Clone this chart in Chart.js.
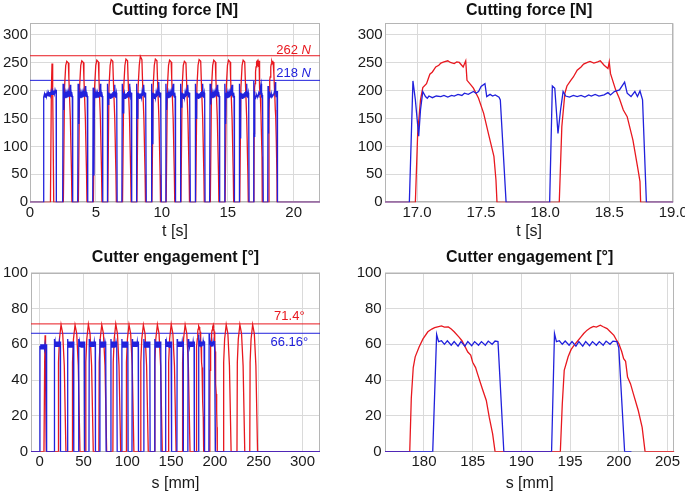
<!DOCTYPE html>
<html>
<head>
<meta charset="utf-8">
<script src="https://cdn.jsdelivr.net/npm/chart.js@4.4.1/dist/chart.umd.min.js"></script>
<style>
  html, body { margin: 0; padding: 0; background: #fff; }
  body { width: 685px; height: 494px; position: relative; overflow: hidden; }
  canvas { position: absolute; }
</style>
</head>
<body>
<canvas id="forceAll" width="340" height="242" style="left:0;top:0"></canvas>
<canvas id="forceZoom" width="340" height="242" style="left:345px;top:0"></canvas>
<canvas id="engAll" width="340" height="250" style="left:0;top:244px"></canvas>
<canvas id="engZoom" width="340" height="250" style="left:345px;top:244px"></canvas>
<script>
// cutting force, passes 1-14  [t s, N]   (passes 15-16 are in the zoom arrays)
const forceRedPulses = [
  [[1.55,0],[1.62,200],[1.67,248],[1.72,205],[1.80,0]],
  [[2.53,0],[2.62,205],[2.71,245],[2.79,252],[2.91,249],[2.95,222],[3.06,150],[3.15,50],[3.18,0]],
  [[3.67,0],[3.76,205],[3.85,245],[3.93,253],[4.05,250],[4.09,222],[4.20,150],[4.29,50],[4.32,0]],
  [[4.81,0],[4.90,205],[4.99,245],[5.07,254],[5.19,251],[5.23,222],[5.34,150],[5.43,50],[5.46,0]],
  [[5.90,0],[5.99,205],[6.08,245],[6.16,255],[6.28,252],[6.32,222],[6.43,150],[6.52,50],[6.55,0]],
  [[7.02,0],[7.11,205],[7.20,245],[7.28,256],[7.40,253],[7.44,222],[7.55,150],[7.64,50],[7.67,0]],
  [[8.11,0],[8.20,205],[8.29,245],[8.37,261],[8.49,255],[8.53,222],[8.64,150],[8.73,50],[8.76,0]],
  [[9.25,0],[9.34,205],[9.43,245],[9.51,256],[9.63,253],[9.67,222],[9.78,150],[9.87,50],[9.90,0]],
  [[10.33,0],[10.42,205],[10.51,245],[10.59,254],[10.71,251],[10.75,222],[10.86,150],[10.95,50],[10.98,0]],
  [[11.45,0],[11.54,205],[11.63,245],[11.71,252],[11.83,249],[11.87,222],[11.98,150],[12.07,50],[12.10,0]],
  [[12.57,0],[12.66,205],[12.75,245],[12.83,255],[12.95,252],[12.99,222],[13.10,150],[13.19,50],[13.22,0]],
  [[13.68,0],[13.77,205],[13.86,245],[13.94,254],[14.06,251],[14.10,222],[14.21,150],[14.30,50],[14.33,0]],
  [[14.80,0],[14.89,205],[14.98,245],[15.06,254],[15.18,251],[15.22,222],[15.33,150],[15.42,50],[15.45,0]],
  [[15.91,0],[16.00,205],[16.09,245],[16.17,254],[16.29,251],[16.33,222],[16.44,150],[16.53,50],[16.56,0]]
];
const forceBluePulses = [
  [[1.02,0],[1.04,188],[1.10,194],[1.15,188],[1.20,195],[1.25,189],[1.30,196],[1.35,190],[1.40,196],[1.45,190],[1.50,197],
   [1.55,191],[1.60,198],[1.65,192],[1.70,199],[1.75,193],[1.80,200],[1.85,194],[1.90,201],[1.95,196],[1.98,201],[2.00,0]],
  [[2.48,0],[2.51,212],[2.57,165],[2.60,196],[2.64,187],[2.68,195],[2.72,186],[2.76,194],[2.80,187],[2.84,195],[2.88,188],
   [2.92,197],[2.96,190],[3.00,199],[3.03,192],[3.06,210],[3.09,189],[3.12,197],[3.15,188],[3.18,196],[3.21,190],[3.24,0]],
  [[3.62,0],[3.65,212],[3.71,140],[3.74,196],[3.78,187],[3.82,195],[3.86,186],[3.90,194],[3.94,187],[3.98,195],[4.02,188],
   [4.06,197],[4.10,190],[4.14,199],[4.17,192],[4.20,208],[4.23,189],[4.26,197],[4.29,188],[4.32,196],[4.35,190],[4.38,0]],
  [[4.76,0],[4.79,205],[4.85,48],[4.88,196],[4.92,187],[4.96,195],[5.00,186],[5.04,194],[5.08,187],[5.12,195],[5.16,188],
   [5.20,197],[5.24,190],[5.28,199],[5.31,192],[5.34,212],[5.37,189],[5.40,197],[5.43,188],[5.46,196],[5.49,190],[5.52,0]],
  [[5.85,0],[5.88,212],[5.94,175],[5.97,196],[6.01,187],[6.05,195],[6.09,186],[6.13,194],[6.17,187],[6.21,195],[6.25,188],
   [6.29,197],[6.33,190],[6.37,199],[6.40,192],[6.43,210],[6.46,189],[6.49,197],[6.52,188],[6.55,196],[6.58,190],[6.61,0]],
  [[6.97,0],[7.00,212],[7.06,160],[7.09,196],[7.13,187],[7.17,195],[7.21,186],[7.25,194],[7.29,187],[7.33,195],[7.37,188],
   [7.41,197],[7.45,190],[7.49,199],[7.52,192],[7.55,212],[7.58,189],[7.61,197],[7.64,188],[7.67,196],[7.70,190],[7.73,0]],
  [[8.06,0],[8.09,212],[8.15,150],[8.18,196],[8.22,187],[8.26,195],[8.30,186],[8.34,194],[8.38,187],[8.42,195],[8.46,188],
   [8.50,197],[8.54,190],[8.58,199],[8.61,192],[8.64,210],[8.67,189],[8.70,197],[8.73,188],[8.76,196],[8.79,190],[8.82,0]],
  [[9.20,0],[9.23,212],[9.29,105],[9.32,196],[9.36,187],[9.40,195],[9.44,186],[9.48,194],[9.52,187],[9.56,195],[9.60,188],
   [9.64,197],[9.68,190],[9.72,199],[9.75,192],[9.78,215],[9.81,189],[9.84,197],[9.87,188],[9.90,196],[9.93,190],[9.96,0]],
  [[10.28,0],[10.31,212],[10.37,165],[10.40,196],[10.44,187],[10.48,195],[10.52,186],[10.56,194],[10.60,187],[10.64,195],[10.68,188],
   [10.72,197],[10.76,190],[10.80,199],[10.83,192],[10.86,212],[10.89,189],[10.92,197],[10.95,188],[10.98,196],[11.01,190],[11.04,0]],
  [[11.40,0],[11.43,212],[11.49,170],[11.52,196],[11.56,187],[11.60,195],[11.64,186],[11.68,194],[11.72,187],[11.76,195],[11.80,188],
   [11.84,197],[11.88,190],[11.92,199],[11.95,192],[11.98,210],[12.01,189],[12.04,197],[12.07,188],[12.10,196],[12.13,190],[12.16,0]],
  [[12.52,0],[12.55,212],[12.61,150],[12.64,196],[12.68,187],[12.72,195],[12.76,186],[12.80,194],[12.84,187],[12.88,195],[12.92,188],
   [12.96,197],[13.00,190],[13.04,199],[13.07,192],[13.10,212],[13.13,189],[13.16,197],[13.19,188],[13.22,196],[13.25,190],[13.28,0]],
  [[13.63,0],[13.66,212],[13.72,175],[13.75,196],[13.79,187],[13.83,195],[13.87,186],[13.91,194],[13.95,187],[13.99,195],[14.03,188],
   [14.07,197],[14.11,190],[14.15,199],[14.18,192],[14.21,210],[14.24,189],[14.27,197],[14.30,188],[14.33,196],[14.36,190],[14.39,0]],
  [[14.75,0],[14.78,212],[14.84,140],[14.87,196],[14.91,187],[14.95,195],[14.99,186],[15.03,194],[15.07,187],[15.11,195],[15.15,188],
   [15.19,197],[15.23,190],[15.27,199],[15.30,192],[15.33,210],[15.36,189],[15.39,197],[15.42,188],[15.45,196],[15.48,190],[15.51,0]],
  [[15.86,0],[15.89,212],[15.95,115],[15.98,196],[16.02,187],[16.06,195],[16.10,186],[16.14,194],[16.18,187],[16.22,195],[16.26,188],
   [16.30,197],[16.34,190],[16.38,199],[16.41,192],[16.44,212],[16.47,189],[16.50,197],[16.53,188],[16.56,196],[16.59,190],[16.62,0]]
];

// cutting force, passes 15-16  [t s, N]
const forceRedZoom = [
  [16.987,0],[17.005,123],[17.027,183],[17.045,205],[17.074,212],[17.10,229],[17.12,233],[17.146,242],
  [17.17,245],[17.186,249],[17.21,251],[17.24,253],[17.26,250],[17.29,248],[17.31,251],[17.33,250],
  [17.36,242],[17.38,253],[17.39,218],[17.42,210],[17.44,204],[17.48,186],[17.52,159],[17.56,120],
  [17.60,82],[17.616,40],[17.624,0],
  [18.11,0],[18.13,135],[18.154,195],[18.17,208],[18.20,218],[18.22,224],[18.25,236],[18.28,242],
  [18.30,247],[18.33,250],[18.35,252],[18.38,249],[18.41,251],[18.43,253],[18.46,245],[18.49,239],
  [18.50,251],[18.51,230],[18.55,201],[18.58,185],[18.61,165],[18.64,153],[18.685,111],[18.725,58],
  [18.74,37],[18.745,0]
];
const forceBlueZoom = [
  [16.94,0],[16.968,217],[16.987,183],[17.013,118],[17.027,165],[17.045,198],[17.066,189],[17.08,186],
  [17.093,190],[17.12,187],[17.15,190],[17.186,189],[17.21,191],[17.24,188],[17.27,191],[17.29,190],
  [17.32,193],[17.35,191],[17.37,195],[17.40,193],[17.44,198],[17.46,195],[17.48,198],[17.50,207],
  [17.53,212],[17.544,189],[17.57,193],[17.59,190],[17.61,192],[17.64,188],[17.65,183],[17.695,0],
  [18.035,0],[18.056,208],[18.075,204],[18.10,123],[18.12,165],[18.14,198],[18.16,190],[18.19,188],
  [18.22,191],[18.25,189],[18.28,191],[18.31,188],[18.34,192],[18.36,190],[18.39,193],[18.42,190],
  [18.46,192],[18.49,196],[18.51,192],[18.54,198],[18.58,201],[18.62,215],[18.64,195],[18.67,189],
  [18.70,198],[18.72,189],[18.74,199],[18.76,183],[18.79,0]
];
const forceMax = { red: 262, blue: 218 };

// cutter engagement, red passes before and after the zoomed two  [s mm, deg]
const engRedBefore = [
  [[4.8,0],[5.6,50],[6.1,65],[6.6,50],[7.4,0]],
  [[21.0,0],[21.4,50],[22.5,63],[24.3,71],[26.2,66],[28.0,48],[29.9,0]],
  [[37.0,0],[37.4,50],[38.5,63],[40.3,70.8],[42.2,66],[44.0,48],[45.9,0]],
  [[52.2,0],[52.6,50],[53.7,63],[55.5,71.2],[57.4,66],[59.2,48],[61.1,0]],
  [[67.5,0],[67.9,50],[69.0,63],[70.8,70.9],[72.7,66],[74.5,48],[76.4,0]],
  [[83.5,0],[83.9,50],[85.0,63],[86.8,71.4],[88.7,66],[90.5,48],[92.4,0]],
  [[98.6,0],[99.0,50],[100.1,63],[101.9,71],[103.8,66],[105.6,48],[107.5,0]],
  [[115.0,0],[115.4,50],[116.5,63],[118.3,70.8],[120.2,66],[122.0,48],[123.9,0]],
  [[131.0,0],[131.4,50],[132.5,63],[134.3,71],[136.2,66],[138.0,48],[139.9,0]],
  [[146.8,0],[147.2,50],[148.3,63],[150.1,71.2],[152.0,66],[153.8,48],[155.7,0]],
  [[162.7,0],[163.1,50],[164.2,63],[166.0,70.9],[167.9,66],[169.7,48],[171.6,0]]
];
const engRedAfter = [
  [[209.6,0],[210.0,50],[211.1,63],[212.9,71],[214.8,66],[216.6,48],[218.5,0]],
  [[225.2,0],[225.6,50],[226.7,63],[228.5,71],[230.4,66],[232.2,48],[234.1,0]],
  [[239.8,0],[240.2,50],[241.3,63],[243.1,71],[245.0,66],[246.8,48],[248.7,0]]
];
// blue passes 1-14
const engBluePulses = [
  [[0.0,0],[0.2,59],[0.6,57.5],[1.2,60],[1.8,57.5],[2.4,60],[3.0,57.5],[3.6,60],[4.2,57.5],[4.8,60],[5.4,57.5],[6.0,60],[6.6,57.5],[7.2,60],[7.7,58],[8.0,0]],
  [[16.3,0],[16.6,63],[17.0,58.5],[17.6,61.5],[18.2,58.5],[18.8,61.5],[19.4,58.5],[20.0,61.5],[20.6,58.5],[21.2,61.5],[21.8,58.5],[22.4,61.5],[23.0,59],[23.4,61.5],[23.7,0]],
  [[31.6,0],[31.9,63],[32.3,58.5],[32.9,61.5],[33.5,58.5],[34.1,61.5],[34.7,58.5],[35.3,61.5],[35.9,58.5],[36.5,61.5],[37.1,58.5],[37.7,61.5],[38.3,59],[38.7,61.5],[39.0,0]],
  [[44.0,0],[44.3,63],[44.7,58.5],[45.3,61.5],[45.9,58.5],[46.5,61.5],[47.1,58.5],[47.7,61.5],[48.3,58.5],[48.9,61.5],[49.5,58.5],[50.1,61.5],[50.7,59],[51.1,61.5],[51.4,0]],
  [[56.2,0],[56.5,63],[56.9,58.5],[57.5,61.5],[58.1,58.5],[58.7,61.5],[59.3,58.5],[59.9,61.5],[60.5,58.5],[61.1,61.5],[61.7,58.5],[62.3,61.5],[62.9,59],[63.3,61.5],[63.6,0]],
  [[68.4,0],[68.7,63],[69.1,58.5],[69.7,61.5],[70.3,58.5],[70.9,61.5],[71.5,58.5],[72.1,61.5],[72.7,58.5],[73.3,61.5],[73.9,58.5],[74.5,61.5],[75.1,59],[75.5,61.5],[75.8,0]],
  [[81.0,0],[81.3,63],[81.7,58.5],[82.3,61.5],[82.9,58.5],[83.5,61.5],[84.1,58.5],[84.7,61.5],[85.3,58.5],[85.9,61.5],[86.5,58.5],[87.1,61.5],[87.7,59],[88.1,61.5],[88.4,0]],
  [[93.5,0],[93.8,63],[94.2,58.5],[94.8,61.5],[95.4,58.5],[96.0,61.5],[96.6,58.5],[97.2,61.5],[97.8,58.5],[98.4,61.5],[99.0,58.5],[99.6,61.5],[100.2,59],[100.6,61.5],[100.9,0]],
  [[105.3,0],[105.6,63],[106.0,58.5],[106.6,61.5],[107.2,58.5],[107.8,61.5],[108.4,58.5],[109.0,61.5],[109.6,58.5],[110.2,61.5],[110.8,58.5],[111.4,61.5],[112.0,59],[112.4,61.5],[112.7,0]],
  [[118.6,0],[118.9,63],[119.3,58.5],[119.9,61.5],[120.5,58.5],[121.1,61.5],[121.7,58.5],[122.3,61.5],[122.9,58.5],[123.5,61.5],[124.1,58.5],[124.7,61.5],[125.3,59],[125.7,61.5],[126.0,0]],
  [[131.1,0],[131.4,63],[131.8,58.5],[132.4,61.5],[133.0,58.5],[133.6,61.5],[134.2,58.5],[134.8,61.5],[135.4,58.5],[136.0,61.5],[136.6,58.5],[137.2,61.5],[137.8,59],[138.2,61.5],[138.5,0]],
  [[143.3,0],[143.6,63],[144.0,58.5],[144.6,61.5],[145.2,58.5],[145.8,61.5],[146.4,58.5],[147.0,61.5],[147.6,58.5],[148.2,61.5],[148.8,58.5],[149.4,61.5],[150.0,59],[150.4,61.5],[150.7,0]],
  [[156.6,0],[156.9,63],[157.3,58.5],[157.9,61.5],[158.5,58.5],[159.1,61.5],[159.7,58.5],[160.3,61.5],[160.9,58.5],[161.5,61.5],[162.1,58.5],[162.7,61.5],[163.3,59],[163.7,61.5],[164.0,0]],
  [[169.1,0],[169.4,63],[169.8,58.5],[170.4,61.5],[171.0,58.5],[171.6,61.5],[172.2,58.5],[172.8,61.5],[173.4,58.5],[174.0,61.5],[174.6,58.5],[175.2,61.5],[175.8,59],[176.2,61.5],[176.5,0]]
];

// cutter engagement, the two zoomed passes  [s mm, deg]
const engRedZoom = [
  [178.54,0],[178.7,30],[178.9,47],[179.1,53],[179.5,58.5],[179.9,63],[180.4,67],[180.8,68.5],
  [181.1,69.3],[181.4,69.8],[181.8,70.3],[182.1,69.6],[182.5,69.7],[182.8,68.5],[183.1,67],[183.6,64],
  [183.9,62],[184.15,59.4],[184.5,55.7],[184.8,54],[185.0,50],[185.3,47],[185.5,43.5],[186.0,35],
  [186.4,28.6],[186.7,19.3],[187.05,10],[187.3,0],
  [194.0,0],[194.2,26.7],[194.4,45.4],[194.8,53],[195.1,57],[195.4,59.4],[195.8,62],[196.1,64],
  [196.4,66],[196.75,67.9],[197.1,69.2],[197.4,70],[197.7,69.6],[198.1,70.7],[198.4,69.8],[198.8,68.8],
  [199.1,67.2],[199.5,65],[199.8,62],[200.0,60.4],[200.3,56],[200.5,52],[200.7,50.5],[200.9,41.7],
  [201.2,38],[201.5,32.3],[202.0,23],[202.4,13.6],[202.7,0]
];
const engBlueZoom = [
  [180.9,0],[181.3,65.5],[181.5,61.5],[181.8,62],[182.1,60],[182.4,62],[182.8,59.5],[183.1,61.5],
  [183.5,59],[183.8,61.5],[184.2,59],[184.5,61.5],[184.9,59.2],[185.2,61.5],[185.6,59.5],[185.9,61.5],
  [186.3,59.5],[186.6,61.8],[187.0,60],[187.3,61.8],[187.6,61.5],[188.2,0],
  [193.1,0],[193.4,66],[193.6,61.5],[193.9,62],[194.2,60],[194.5,61.8],[194.9,59.5],[195.2,61.5],
  [195.6,59],[195.9,61.5],[196.3,59],[196.6,61.5],[197.0,59.2],[197.3,61.5],[197.7,59.5],[198.0,61.5],
  [198.4,59.5],[198.7,61.8],[199.1,60],[199.4,61.8],[199.8,61.5],[200.0,58],[200.6,0]
];
const engMax = { red: 71.4, blue: 66.16 };

const RED = '#e8181f';
const BLUE = '#2121dc';
const GRID = '#dadada';
const FONT = '"Liberation Sans", Arial, sans-serif';

Chart.defaults.font.family = FONT;
Chart.defaults.color = '#1a1a1a';

// grey box round the plot area
const frame = {
  id: 'frame',
  beforeDatasetsDraw(chart) {
    const { ctx, chartArea: a } = chart;
    ctx.save();
    ctx.strokeStyle = '#b5b5b5';
    ctx.lineWidth = 1;
    ctx.strokeRect(Math.round(a.left) + 0.5, Math.round(a.top) + 0.5,
                   Math.round(a.width) - 1, Math.round(a.height) - 1);
    ctx.restore();
  }
};

// max value labels next to the horizontal lines
const notes = {
  id: 'notes',
  afterDatasetsDraw(chart, args, opts) {
    const ctx = chart.ctx;
    const xs = chart.scales.x, ys = chart.scales.y;
    (opts.items || []).forEach(n => {
      const fonts = n.parts.map(p => (p.italic ? 'italic ' : '') + '13px ' + FONT);
      ctx.save();
      let total = 0;
      const widths = n.parts.map((p, i) => { ctx.font = fonts[i]; const w = ctx.measureText(p.text).width; total += w; return w; });
      let x = xs.getPixelForValue(n.x) - total / 2;
      const y = ys.getPixelForValue(n.y);
      ctx.fillStyle = n.color;
      ctx.textBaseline = 'alphabetic';
      n.parts.forEach((p, i) => { ctx.font = fonts[i]; ctx.fillText(p.text, x, y); x += widths[i]; });
      ctx.restore();
    });
  }
};

function series(data, color, width) {
  return { data, borderColor: color, borderWidth: width, pointRadius: 0, tension: 0, fill: false };
}

function build(id, o) {
  return new Chart(document.getElementById(id), {
    type: 'line',
    data: { datasets: o.sets },
    options: {
      responsive: false,
      animation: false,
      events: [],
      layout: { padding: { left: 0, right: o.padRight, top: 0, bottom: 0 } },
      plugins: {
        legend: { display: false },
        tooltip: { enabled: false },
        title: {
          display: true, text: o.title, fullSize: false, color: '#111',
          font: { size: 16, weight: 'bold', lineHeight: 1.2 }, padding: o.titlePad
        },
        notes: { items: o.notes || [] }
      },
      scales: {
        x: {
          type: 'linear', min: o.x.min, max: o.x.max,
          ticks: { stepSize: o.x.step, includeBounds: false, autoSkip: false, maxRotation: 0,
                   padding: 1.5, font: { size: 15 }, callback: o.x.fmt },
          grid: { color: GRID, drawTicks: false },
          border: { display: false },
          title: { display: true, text: o.x.title, font: { size: 16 }, padding: { top: 0, bottom: 1 } },
          afterFit: s => { s.height = o.xHeight; s.paddingLeft = 0; s.paddingRight = 0; }
        },
        y: {
          type: 'linear', min: o.y.min, max: o.y.max,
          ticks: { stepSize: o.y.step, includeBounds: false, padding: o.yPad, font: { size: 15 } },
          grid: { color: GRID, drawTicks: false },
          border: { display: false },
          afterFit: s => { s.width = o.yWidth; s.paddingTop = 0; s.paddingBottom = 0; }
        }
      }
    },
    plugins: [frame, notes]
  });
}

const forceAxisY = { min: 0, max: 320, step: 50 };
const engAxisY = { min: 0, max: 100, step: 20 };

build('forceAll', {
  title: 'Cutting force [N]',
  titlePad: { top: 0.5, bottom: 3.6 },
  padRight: 20, yWidth: 30, yPad: 2, xHeight: 39.7,
  x: { min: 0, max: 22, step: 5, title: 't [s]' },
  y: forceAxisY,
  sets: [
    series([[0, 0], ...forceBluePulses.flat(), ...forceBlueZoom, [22, 0]], BLUE, 1.3),
    series([[0, 0], ...forceRedPulses.flat(), ...forceRedZoom, [22, 0]], RED, 1.3),
    series([[0, forceMax.blue], [22, forceMax.blue]], BLUE, 1),
    series([[0, forceMax.red], [22, forceMax.red]], RED, 1)
  ],
  notes: [
    { x: 20, y: 266, color: RED, parts: [{ text: forceMax.red + ' ' }, { text: 'N', italic: true }] },
    { x: 20, y: 224, color: BLUE, parts: [{ text: forceMax.blue + ' ' }, { text: 'N', italic: true }] }
  ]
});

build('forceZoom', {
  title: 'Cutting force [N]',
  titlePad: { top: 0.5, bottom: 3.6 },
  padRight: 11.7, yWidth: 40, yPad: 2.3, xHeight: 39.7,
  x: { min: 16.75, max: 19, step: 0.5, title: 't [s]', fmt: v => v.toFixed(1) },
  y: forceAxisY,
  sets: [
    series([[16.75, 0], ...forceBlueZoom, [19, 0]], BLUE, 1.3),
    series([[16.75, 0], ...forceRedZoom, [19, 0]], RED, 1.3)
  ]
});

build('engAll', {
  title: 'Cutter engagement [°]',
  titlePad: { top: 4.4, bottom: 5.1 },
  padRight: 20, yWidth: 31, yPad: 3, xHeight: 42.3,
  x: { min: -10, max: 320, step: 50, title: 's [mm]' },
  y: engAxisY,
  sets: [
    series([[-10, 0], ...engBluePulses.flat(), ...engBlueZoom, [320, 0]], BLUE, 1.3),
    series([[-10, 0], ...engRedBefore.flat(), ...engRedZoom, ...engRedAfter.flat(), [320, 0]], RED, 1.3),
    series([[-10, engMax.blue], [320, engMax.blue]], BLUE, 1),
    series([[-10, engMax.red], [320, engMax.red]], RED, 1)
  ],
  notes: [
    { x: 285, y: 73.8, color: RED, parts: [{ text: engMax.red + '°' }] },
    { x: 285, y: 58.9, color: BLUE, parts: [{ text: engMax.blue + '°' }] }
  ]
});

build('engZoom', {
  title: 'Cutter engagement [°]',
  titlePad: { top: 4.4, bottom: 5.1 },
  padRight: 10.7, yWidth: 40, yPad: 3.3, xHeight: 42.3,
  x: { min: 176, max: 205.7, step: 5, title: 's [mm]' },
  y: engAxisY,
  sets: [
    series([[176, 0], ...engBlueZoom, [201.3, 0]], BLUE, 1.3),
    series([[176, 0], ...engRedZoom, [205.7, 0]], RED, 1.3)
  ]
});
</script>
</body>
</html>
